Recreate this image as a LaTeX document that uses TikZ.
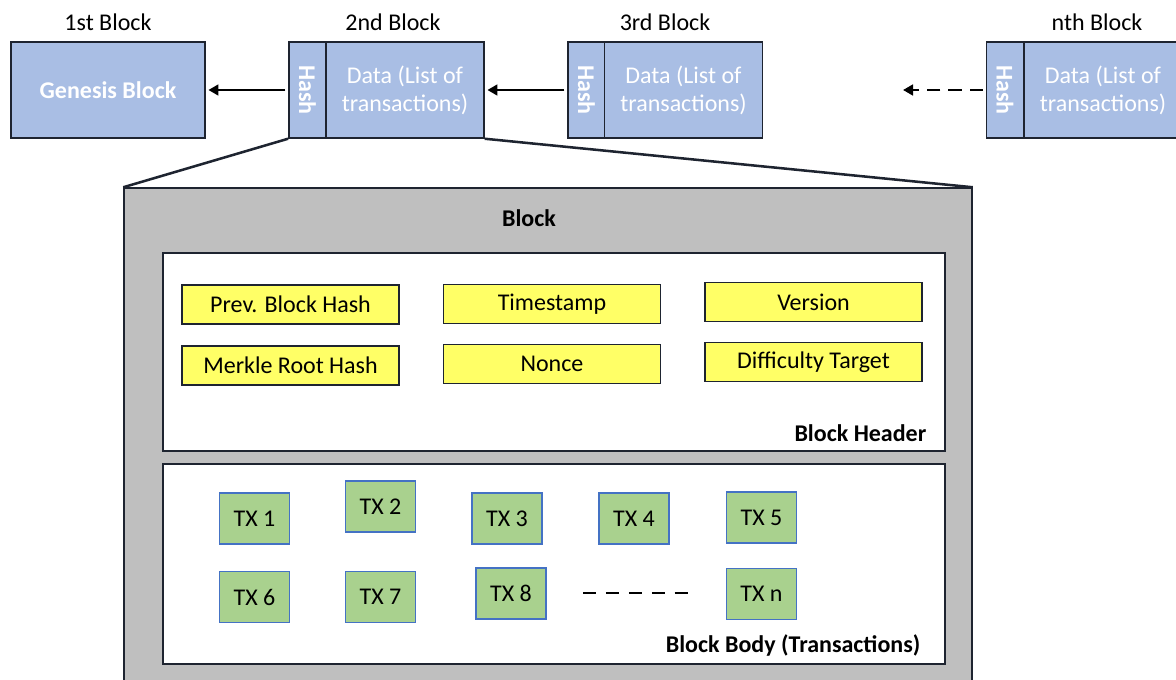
\documentclass[tikz,border=0pt]{standalone}
\usepackage{fontspec}
\setmainfont{Carlito}
\usetikzlibrary{arrows.meta}
\definecolor{chainblue}{HTML}{A9BEE4}
\definecolor{greybox}{HTML}{BFBFBF}
\definecolor{yel}{HTML}{FFFF66}
\definecolor{txgreen}{HTML}{A9D18E}
\definecolor{txborder}{HTML}{4472C4}
\definecolor{edge}{HTML}{1E2430}
\tikzset{
  fnt/.style={font=\fontsize{18}{21}\selectfont},
  chain/.style={draw=edge, line width=1.1pt, fill=chainblue, inner sep=0pt, minimum height=72pt},
  hashbox/.style={chain, minimum width=28pt, text=white, font=\fontsize{18}{21}\selectfont\bfseries},
  databox/.style={chain, minimum width=118.5pt, text=white, align=center, fnt},
  toplabel/.style={fnt, text=black},
  fieldbox/.style={draw=edge, line width=1.1pt, fill=yel, minimum width=162.75pt, minimum height=29.5pt, inner sep=0pt, fnt},
  txbox/.style={draw=txborder, line width=1pt, fill=txgreen, minimum width=52.5pt, minimum height=38.25pt, inner sep=0pt, fnt},
  panel/.style={draw=edge, line width=1.1pt, fill=white, minimum width=586.5pt, inner sep=0pt},
  boldlabel/.style={font=\fontsize{18}{21}\selectfont\bfseries},
  arr/.style={line width=2.1pt, -{Triangle[length=7.5pt,width=8pt]}, shorten >=2pt, shorten <=2pt},
}
\begin{document}
\begin{tikzpicture}[x=0.75pt,y=-0.75pt]
\useasboundingbox (0,0) rectangle (1176,680);
% big block
\node[draw=edge, line width=1.1pt, fill=greybox, minimum width=636pt, minimum height=384pt, inner sep=0pt] (big) at (548,444) {};
\node[boldlabel] (blocklbl) at (529,218) {Block};
\node[panel, minimum height=148.5pt] (header) at (554,352) {};
\node[panel, minimum height=150pt] (body) at (554,564) {};
% chain blocks
\node[chain, minimum width=145.5pt, text=white, font=\fontsize{18}{21}\selectfont\bfseries] (gen) at (108,90) {Genesis Block};
\node[hashbox] (h2) at (307.5,90) {\rotatebox{-90}{Hash}};
\node[databox] (d2) at (405,90) {Data (List of\\transactions)};
\node[hashbox] (h3) at (586.5,90) {\rotatebox{-90}{Hash}};
\node[databox] (d3) at (683.5,90) {Data (List of\\transactions)};
\node[hashbox] (hn) at (1005,90) {\rotatebox{-90}{Hash}};
\node[databox] (dn) at (1103,90) {Data (List of\\transactions)};
% top labels
\node[toplabel] (l1) at (108,22) {1st Block};
\node[toplabel] (l2) at (393,22) {2nd Block};
\node[toplabel] (l3) at (665,22) {3rd Block};
\node[toplabel] (ln) at (1097,22) {nth Block};
% arrows
\draw[arr] (h2.west) -- (gen.east);
\draw[arr] (h3.west) -- (d2.east);
\coordinate (dend) at (903,90);
\draw[arr, dash pattern=on 10pt off 6pt, shorten >=0pt] (hn.west) -- (dend);
% zoom lines
\draw[line width=1.9pt, edge] (h2.south west) -- (big.north west);
\draw[line width=1.9pt, edge] (d2.south east) -- (big.north east);
% header fields
\node[fieldbox] (prev) at (290.5,304.5) {Prev. Block Hash};
\node[fieldbox] (merkle) at (290.5,365.5) {Merkle Root Hash};
\node[fieldbox] (time) at (552,304) {Timestamp};
\node[fieldbox] (nonce) at (552,364) {Nonce};
\node[fieldbox] (ver) at (813.5,302) {Version};
\node[fieldbox] (diff) at (813.5,362) {Difficulty Target};
\node[boldlabel, anchor=east] (hdrlbl) at (931,433) {Block Header};
% transactions
\node[txbox] (tx1) at (254.5,518.5) {TX 1};
\node[txbox] (tx2) at (380.5,506.5) {TX 2};
\node[txbox] (tx3) at (507,518.5) {TX 3};
\node[txbox] (tx4) at (634,518.5) {TX 4};
\node[txbox] (tx5) at (761.5,517.5) {TX 5};
\node[txbox] (tx6) at (254.5,597) {TX 6};
\node[txbox] (tx7) at (380.5,597) {TX 7};
\node[txbox] (tx8) at (511,593.5) {TX 8};
\node[txbox] (txn) at (761.5,594) {TX n};
\coordinate (ds) at (583,593);
\coordinate (de) at (695,593);
\draw[line width=2.2pt, dash pattern=on 10pt off 7.2pt] (ds) -- (de);
\node[boldlabel, anchor=east] (bodylbl) at (925,645) {Block Body (Transactions)};
\end{tikzpicture}
\end{document}
